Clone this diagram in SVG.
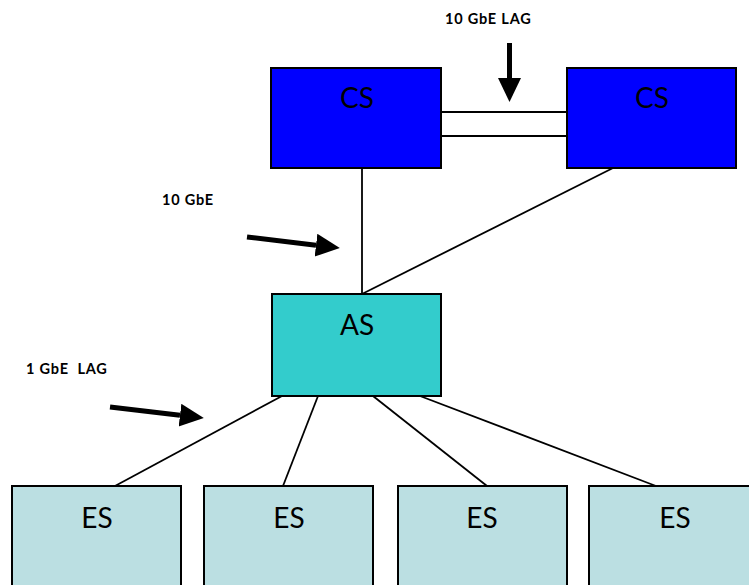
<svg xmlns="http://www.w3.org/2000/svg" width="749" height="585" viewBox="0 0 749 585">
<style>
.box{stroke:#000;stroke-width:2}
.cs{fill:#0000FF}
.as{fill:#33CCCC}
.es{fill:#BBDFE2}
.lbl{font-family:Lato,"Open Sans",sans-serif;font-size:28px;fill:#000;text-anchor:middle}
.note{font-family:Lato,"Open Sans",sans-serif;font-size:14.5px;font-weight:bold;fill:#000;letter-spacing:0.8px}
.link{stroke:#000;stroke-width:1.8;fill:none}
.arrow{stroke:#000;stroke-width:5;fill:none;marker-end:url(#head)}
</style>
<defs>
<marker id="head" markerUnits="userSpaceOnUse" markerWidth="26" markerHeight="26" refX="0" refY="11.5" orient="auto">
<path d="M0,0 L24,11.5 L0,23 z" fill="#000"/>
</marker>
</defs>
<rect width="749" height="585" fill="#fff"/>
<g id="connectors">
<line class="link" x1="441" y1="112" x2="567" y2="112"/>
<line class="link" x1="441" y1="136" x2="567" y2="136"/>
<line class="link" x1="362" y1="168" x2="362" y2="294"/>
<line class="link" x1="613" y1="168" x2="362" y2="294"/>
<line class="link" x1="282" y1="396" x2="115" y2="486"/>
<line class="link" x1="318" y1="396" x2="283" y2="486"/>
<line class="link" x1="373" y1="396" x2="487" y2="486"/>
<line class="link" x1="420" y1="396" x2="656" y2="486"/>
</g>
<g id="cs1"><rect class="box cs" x="271" y="68" width="170" height="100"/><text class="lbl" x="357" y="108">CS</text></g>
<g id="cs2"><rect class="box cs" x="567" y="68" width="169" height="100"/><text class="lbl" x="652" y="108">CS</text></g>
<g id="as"><rect class="box as" x="272" y="294" width="169" height="102"/><text class="lbl" x="357" y="335">AS</text></g>
<g id="es1"><rect class="box es" x="12" y="486" width="169" height="110"/><text class="lbl" x="97" y="528">ES</text></g>
<g id="es2"><rect class="box es" x="204" y="486" width="169" height="110"/><text class="lbl" x="289" y="528">ES</text></g>
<g id="es3"><rect class="box es" x="398" y="486" width="169" height="110"/><text class="lbl" x="482" y="528">ES</text></g>
<g id="es4"><rect class="box es" x="589" y="486" width="169" height="110"/><text class="lbl" x="675" y="528">ES</text></g>
<g id="annotations">
<text class="note" x="445" y="24">10 GbE LAG</text>
<line class="arrow" x1="509.5" y1="43" x2="509.5" y2="78"/>
<text class="note" x="162" y="205">10 GbE</text>
<line class="arrow" x1="247" y1="237" x2="316" y2="245.2"/>
<text class="note" x="26" y="374" xml:space="preserve">1 GbE  LAG</text>
<line class="arrow" x1="110" y1="407" x2="180" y2="415.2"/>
</g>
</svg>
